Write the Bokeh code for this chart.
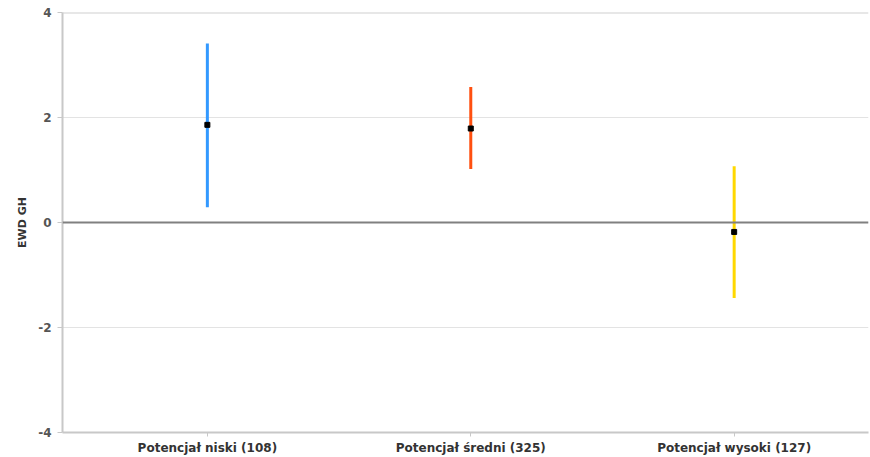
from bokeh.plotting import figure
from bokeh.models import Range1d, Span, FixedTicker, ColumnDataSource
from bokeh.embed import file_html
from bokeh.resources import INLINE

categories = ["Potencjał niski (108)", "Potencjał średni (325)", "Potencjał wysoki (127)"]
positions = [1, 2, 3]
means = [1.86, 1.79, -0.18]
lows = [0.29, 1.02, -1.44]
highs = [3.41, 2.58, 1.07]
colors = ["#3399ff", "#ff5010", "#ffd800"]
y_ticks = [-4, -2, 0, 2, 4]
y_tick_labels = ["-4", "-2", "0", "2", "4"]

src = ColumnDataSource(dict(x=positions, m=means, lo=lows, hi=highs, c=colors))

p = figure(width=870, height=457, output_backend="svg", toolbar_location=None,
           x_range=Range1d(0.45, 3.51), y_range=Range1d(-4, 4),
           min_border_left=62, min_border_top=12, min_border_right=2, min_border_bottom=24)
p.outline_line_color = None
p.background_fill_color = "white"
p.border_fill_color = "white"

p.xgrid.visible = False
p.ygrid.grid_line_color = "#e3e3e3"
p.ygrid.grid_line_width = 1

p.yaxis.ticker = FixedTicker(ticks=y_ticks)
p.yaxis.major_label_overrides = {t: s for t, s in zip(y_ticks, y_tick_labels)}
p.yaxis.axis_label = "EWD GH"
p.yaxis.axis_label_text_font = "DejaVu Sans"
p.yaxis.axis_label_text_font_style = "bold"
p.yaxis.axis_label_text_font_size = "11px"
p.yaxis.axis_label_text_color = "#333333"
p.yaxis.axis_label_standoff = 6
p.yaxis.major_label_text_font = "DejaVu Sans"
p.yaxis.major_label_text_font_style = "bold"
p.yaxis.major_label_text_font_size = "12px"
p.yaxis.major_label_text_color = "#555555"
p.yaxis.axis_line_color = "#c8c8c8"
p.yaxis.axis_line_width = 2
p.yaxis.major_tick_line_color = "#c8c8c8"
p.yaxis.major_tick_out = 5
p.yaxis.major_tick_in = 0
p.yaxis.minor_tick_line_color = None
p.yaxis.major_label_standoff = 6

p.xaxis.ticker = FixedTicker(ticks=positions)
p.xaxis.major_label_overrides = {pos: lab for pos, lab in zip(positions, categories)}
p.xaxis.major_label_text_font = "DejaVu Sans"
p.xaxis.major_label_text_font_style = "bold"
p.xaxis.major_label_text_font_size = "12px"
p.xaxis.major_label_text_color = "#333333"
p.xaxis.axis_line_color = "#c8c8c8"
p.xaxis.axis_line_width = 2
p.xaxis.major_tick_line_color = "#c8c8c8"
p.xaxis.major_tick_out = 4
p.xaxis.major_tick_in = 0
p.xaxis.minor_tick_line_color = None
p.xaxis.major_label_standoff = 4

p.add_layout(Span(location=4, dimension="width", line_color="#d0d0d0", line_width=2))
p.add_layout(Span(location=0, dimension="width", line_color="#808080", line_width=2))

p.segment(x0="x", x1="x", y0="lo", y1="hi", line_color="c", line_width=3, source=src)
p.scatter(x="x", y="m", marker="square", size=5, fill_color="black", line_color="black", source=src)

open("out.html", "w").write(file_html(p, INLINE))
